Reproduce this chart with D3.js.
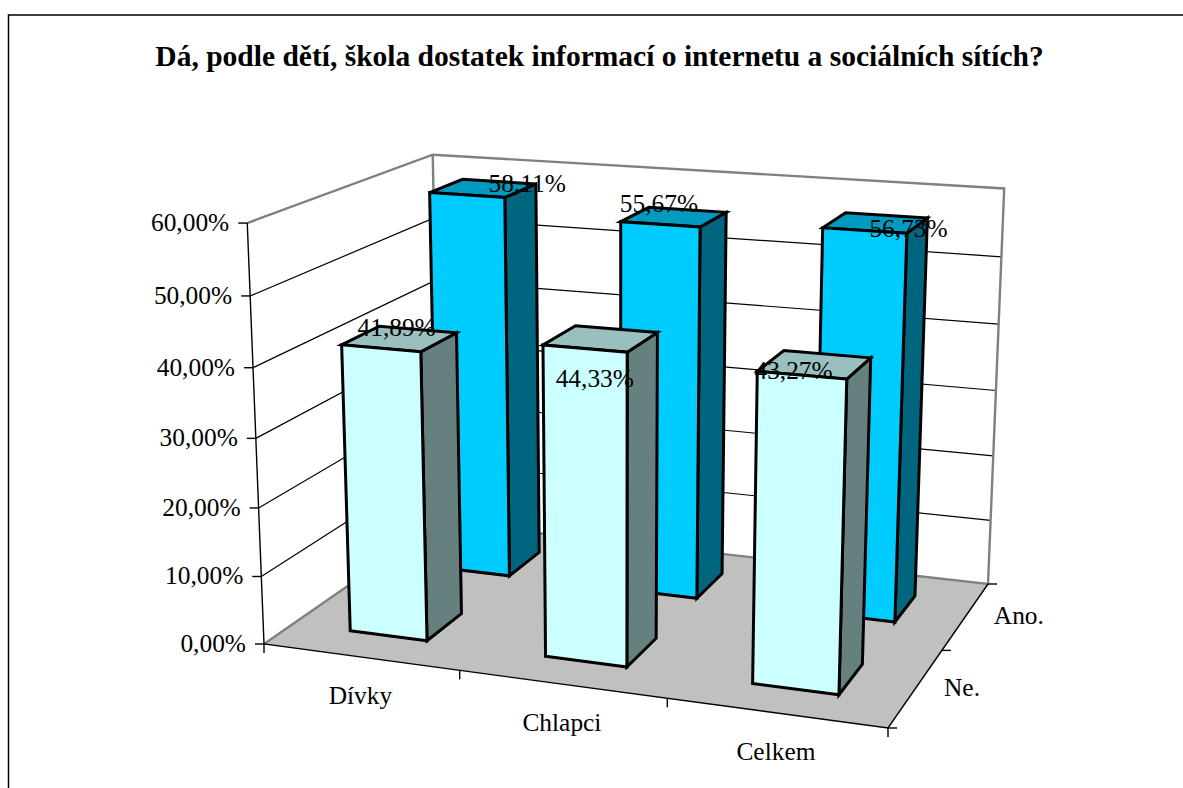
<!DOCTYPE html>
<html><head><meta charset="utf-8">
<style>html,body{margin:0;padding:0;background:#fff;overflow:hidden}svg{display:block}text{font-family:"Liberation Serif","Times New Roman",serif;fill:#000}</style>
<script src="https://cdn.jsdelivr.net/npm/d3@7"></script></head><body><script>
const categories = ["Dívky", "Chlapci", "Celkem"];
const seriesNames = ["Ne.", "Ano."];
const valuesNe = [41.89, 44.33, 43.27];
const valuesAno = [58.11, 55.67, 56.73];
const valueTicks = [0, 10, 20, 30, 40, 50, 60];

// layout: pixel anchors of the 3D box, label nudges
const W = 1183, H = 788;
const floorQuad = [[264,644],[888,728],[988,584],[440,522]];
const topAnchors = [{u:0,v:0,p:[246,221]},{u:0,v:1,p:[434,156]},{u:1,v:1,p:[1004,189]}];
const labelNudgeNe = [[-3,-3],[-6,48],[-21,15]];
const labelNudgeAno = [[44,4],[-15,-5],[33,14]];
const colorsNe = {front:"#CCFFFF", side:"#668080", top:"#99BFBF"};
const colorsAno = {front:"#00CCFF", side:"#006680", top:"#0099BF"};
const FS = 25.4;

// homography floor
const [p0,p1,p2,p3] = floorQuad;
const dx1=p1[0]-p2[0], dx2=p3[0]-p2[0], sx=p0[0]-p1[0]+p2[0]-p3[0];
const dy1=p1[1]-p2[1], dy2=p3[1]-p2[1], sy=p0[1]-p1[1]+p2[1]-p3[1];
const den=dx1*dy2-dx2*dy1;
const g=(sx*dy2-dx2*sy)/den, h=(dx1*sy-sx*dy1)/den;
const A=p1[0]-p0[0]+g*p1[0], B=p3[0]-p0[0]+h*p3[0], C=p0[0];
const D=p1[1]-p0[1]+g*p1[1], E=p3[1]-p0[1]+h*p3[1], F=p0[1];
function floorH(u,v){return [A*u+B*v+C, D*u+E*v+F, g*u+h*v+1];}
// least squares for the vertical column of the camera matrix
function solveVertical(){
  const rows=[],rhs=[];
  topAnchors.forEach(t=>{const [X,Y,Wf]=floorH(t.u,t.v);
    rows.push([1,0,-t.p[0]]);rhs.push(t.p[0]*Wf-X);
    rows.push([0,1,-t.p[1]]);rhs.push(t.p[1]*Wf-Y);});
  const M=[0,1,2].map(i=>[0,1,2].map(j=>d3.sum(rows,r=>r[i]*r[j])).concat(d3.sum(rows,(r,k)=>r[i]*rhs[k])));
  for(let i=0;i<3;i++){for(let k=0;k<3;k++){if(k===i)continue;const f=M[k][i]/M[i][i];for(let j=i;j<4;j++)M[k][j]-=f*M[i][j];}}
  return [M[0][3]/M[0][0],M[1][3]/M[1][1],M[2][3]/M[2][2]];
}
const vc=solveVertical();
function proj(u,v,w){const [X,Y,Wf]=floorH(u,v);const d=Wf+vc[2]*w;return [(X+vc[0]*w)/d,(Y+vc[1]*w)/d];}

const xBand=d3.scaleBand().domain(categories).range([0,1]).paddingInner(0.6).paddingOuter(0.3);
const zBand=d3.scaleBand().domain(seriesNames).range([0,1]).paddingInner(0.6).paddingOuter(0.3);
const xStep=d3.scaleBand().domain(categories).range([0,1]);
const zStep=d3.scaleBand().domain(seriesNames).range([0,1]);
const yScale=d3.scaleLinear().domain([0,60]).range([0,1]);
const fmt=v=>v.toFixed(2).replace(".",",")+"%";
const line=d3.line();
const closed=pts=>line(pts)+"Z";

const svg=d3.select("body").append("svg").attr("width",W).attr("height",H);
// outer frame (cropped at right and bottom)
svg.append("path").attr("d","M8.5,788V15H1183").attr("fill","none").attr("stroke","#000").attr("stroke-width",1.5);
// title
svg.append("text").attr("x",599.5).attr("y",66).attr("text-anchor","middle").attr("font-size",29.5).attr("font-weight","bold")
  .text("Dá, podle dětí, škola dostatek informací o internetu a sociálních sítích?");
// floor
svg.append("path").attr("d",closed([proj(0,0,0),proj(1,0,0),proj(1,1,0),proj(0,1,0)])).attr("fill","#C0C0C0");
// gridlines
const gGrid=svg.append("g").attr("fill","none").attr("stroke","#000").attr("stroke-width",1.2);
valueTicks.slice(1,-1).forEach(t=>{const w=yScale(t);
  gGrid.append("path").attr("d",line([proj(0,0,w),proj(0,1,w),proj(1,1,w)]));});
// wall border
svg.append("path").attr("d",line([proj(0,0,1),proj(0,1,1),proj(1,1,1),proj(1,1,0),proj(0,1,0),proj(0,0,0)])).attr("fill","none").attr("stroke","#808080").attr("stroke-width",2.4);
svg.append("path").attr("d",line([proj(0,1,1),proj(0,1,0)])).attr("fill","none").attr("stroke","#808080").attr("stroke-width",2.4);
// axes
const gAxis=svg.append("g").attr("fill","none").attr("stroke","#000").attr("stroke-width",1.4);
gAxis.append("path").attr("d",line([proj(0,0,1),proj(0,0,0),proj(1,0,0),proj(1,1,0)]));
valueTicks.forEach(t=>{const p=proj(0,0,yScale(t));
  gAxis.append("path").attr("d",line([[p[0]-9,p[1]],p]));
  svg.append("text").attr("x",p[0]-18).attr("y",p[1]+8).attr("text-anchor","end").attr("font-size",FS).text(t.toFixed(2).replace(".",",")+"%");});
[0,1,2,3].forEach(i=>{const p=proj(i/3,0,0);gAxis.append("path").attr("d",line([p,[p[0],p[1]+9]]));});
[0,1,2].forEach(i=>{const p=proj(1,i/2,0);gAxis.append("path").attr("d",line([p,[p[0]+9,p[1]]]));});
categories.forEach(c=>{const p=proj(xStep(c)+xStep.bandwidth()/2,0,0);
  svg.append("text").attr("x",p[0]).attr("y",p[1]+47).attr("text-anchor","middle").attr("font-size",FS).text(c);});
seriesNames.forEach(s=>{const p=proj(1,zStep(s)+zStep.bandwidth()/2,0);
  svg.append("text").attr("x",p[0]+28).attr("y",p[1]+8).attr("font-size",FS).text(s);});
// bars
function bar(cat,ser,val,col){
  const u0=xBand(cat),u1=u0+xBand.bandwidth(),v0=zBand(ser),v1=v0+zBand.bandwidth(),w=yScale(val);
  const g=svg.append("g").attr("stroke","#000").attr("stroke-width",3).attr("stroke-linejoin","miter");
  g.append("path").attr("fill",col.side).attr("d",closed([proj(u1,v0,0),proj(u1,v1,0),proj(u1,v1,w),proj(u1,v0,w)]));
  g.append("path").attr("fill",col.top).attr("d",closed([proj(u0,v0,w),proj(u1,v0,w),proj(u1,v1,w),proj(u0,v1,w)]));
  g.append("path").attr("fill",col.front).attr("d",closed([proj(u0,v0,0),proj(u1,v0,0),proj(u1,v0,w),proj(u0,v0,w)]));
}
categories.forEach((c,i)=>bar(c,seriesNames[1],valuesAno[i],colorsAno));
categories.forEach((c,i)=>bar(c,seriesNames[0],valuesNe[i],colorsNe));
// data labels
function dataLabel(cat,ser,val,n){
  const p=proj(xBand(cat)+xBand.bandwidth()/2,zBand(ser)+zBand.bandwidth()/2,yScale(val));
  svg.append("text").attr("x",p[0]+n[0]).attr("y",p[1]+n[1]).attr("text-anchor","middle").attr("font-size",FS).text(fmt(val));
}
categories.forEach((c,i)=>dataLabel(c,seriesNames[1],valuesAno[i],labelNudgeAno[i]));
categories.forEach((c,i)=>dataLabel(c,seriesNames[0],valuesNe[i],labelNudgeNe[i]));
</script></body></html>
